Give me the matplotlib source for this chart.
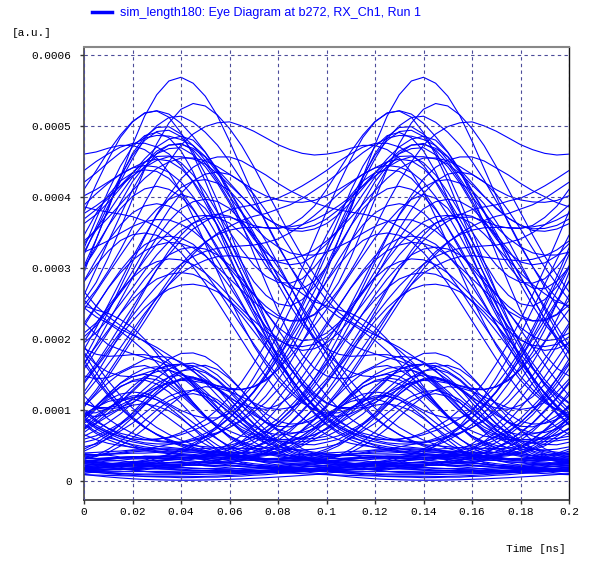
import numpy as np
import matplotlib
matplotlib.use('Agg')
import matplotlib.pyplot as plt

# received level of every bit (one bit per 0.1 ns UI), ~1 for a "1", ~0 for a "0"
levels = [0.02,0.00,0.05,1.08,0.03,-0.02,0.04,0.01,0.86,1.18,0.06,0.78,0.00,0.03,-0.03,
          0.05,0.02,1.22,0.94,1.10,0.04,0.01,1.15,0.02,0.06,-0.02,0.03,0.00,0.05,0.92,
          0.03,1.02,1.24,0.05,-0.01,0.02,0.07,0.81,1.13,0.97,1.19,0.02,0.04,-0.03,0.01,
          0.06,1.05,0.03,0.00,0.88,1.21,0.05,0.02,-0.02,0.04,0.01,0.07,0.03,0.76,0.02,
          1.16,0.04,0.00,0.06,0.93,1.25,0.84,0.03,-0.02,0.05,0.01,0.04,1.09,0.02,0.06,
          -0.01,0.79,1.17,0.05,1.03,0.90,1.20,0.01,0.04,0.00,0.06,-0.02,0.03,0.98,0.05,
          0.01,1.12,0.03,0.06,-0.02,0.02,0.87,1.23,1.01,0.82,1.14,0.04,0.00,0.05,0.02,
          0.95,0.06,1.07,0.01,-0.03,0.04,0.02,0.05,1.19,0.85,0.03,0.00,0.06,1.11,0.02,
          0.04,-0.01,0.05,0.02,0.03,0.89,1.16,1.04,0.01,0.06,0.02,0.80,0.04,1.22,0.96,
          0.03,0.00,0.05,0.02,0.01]

# timing offset of every bit, in 5 ps steps
shifts = [0,1,-1,2,0,-2,1,0,-1,3,1,-2,0,2,-1,1,0,-3,2,1,-1,0,2,-2,1,3,-1,0,-2,1,
          2,-1,0,3,-2,1,-1,2,0,-3,1,2,-1,0,1,-2,3,0,-1,2,-2,1,0,-1,2,1,-3,0,1,-1,
          -2,1,3,0,-1,2,-3,1,0,-1,2,1,-2,0,3,-1,1,-2,2,0,-1,3,1,-2,0,1,-1,2,-3,0,
          1,-2,0,2,-1,1,3,-1,-2,0,2,1,-3,1,0,-1,2,-2,1,0,3,-1,0,2,-2,1,0,-1,2,-3,
          0,2,-1,1,-2,3,0,-1,2,1,-2,0,1,-3,2,0,-1,1,0,2]

# single-bit response at the receiver [1e-4 a.u.], every 0.005 ns from -0.120 to +0.400 ns
pulse = [0.01,0.02,0.03,0.05,0.08,0.11,0.16,0.23,0.31,0.41,0.54,0.70,
         0.88,1.10,1.34,1.61,1.90,2.19,2.48,2.76,3.01,3.22,3.38,3.47,
         3.50,
         3.47,3.38,3.22,3.01,2.77,2.50,2.22,1.94,1.66,1.40,
         1.16,0.95,0.77,0.62,0.50,0.41,0.34,0.29,0.25,0.22,
         0.20,0.18,0.17,0.16,0.16,0.16,0.17,0.18,0.20,0.24,
         0.30,0.39,0.50,0.63,0.78,0.92,1.04,1.11,1.13,1.09,
         1.00,0.87,0.72,0.57,0.44,0.33,0.25,0.20,0.17,0.15,
         0.14,0.14,0.13,0.13,0.13,0.12,0.12,0.12,0.11,0.11,
         0.11,0.10,0.10,0.10,0.09,0.09,0.08,0.08,0.07,0.07,
         0.06,0.06,0.05,0.05,0.04,0.04,0.03,0.02,0.01,0.00]
pulse_centre = 24
baseline = 0.06

dt = 0.005
spb = 20            # samples per bit
eye_centre = 0.040  # bit centre position inside the 0.2 ns window

xticks = [0, 0.02, 0.04, 0.06, 0.08, 0.1, 0.12, 0.14, 0.16, 0.18, 0.2]
xlabels = ['0', '0.02', '0.04', '0.06', '0.08', '0.1', '0.12', '0.14', '0.16', '0.18', '0.2']
yticks = [0, 0.0001, 0.0002, 0.0003, 0.0004, 0.0005, 0.0006]
ylabels = ['0', '0.0001', '0.0002', '0.0003', '0.0004', '0.0005', '0.0006']

# received waveform = superposition of bit responses
pulse = np.array(pulse)
n = len(levels) * spb + len(pulse) + 10
wave = np.full(n, baseline)
for i, (a, s) in enumerate(zip(levels, shifts)):
    st = i*spb + 5 + s
    wave[st:st+len(pulse)] += a * pulse
wave = wave * 1e-4

mono = ['Liberation Mono', 'DejaVu Sans Mono']
blue = '#0000ff'

fig = plt.figure(figsize=(5.89, 5.62), dpi=100)
ax = fig.add_axes([84/589, 62/562, 485/589, 453/562])

j = np.arange(-9, 35)
tw = eye_centre + j*dt
first = True
for k in range(4, len(levels) - 3):
    c = k*spb + 5 + pulse_centre
    y = wave[c + j]
    ax.plot(tw, y, color=blue, lw=0.8,
            label='sim_length180: Eye Diagram at b272, RX_Ch1, Run 1' if first else None)
    first = False

ax.set_xlim(0, 0.2)
ax.set_ylim(-0.0000268, 0.000611)
ax.set_xticks(xticks)
ax.set_xticklabels(xlabels)
ax.set_yticks(yticks)
ax.set_yticklabels(ylabels)
for lab in ax.get_xticklabels() + ax.get_yticklabels():
    lab.set_family(mono)
    lab.set_fontsize(8)
ax.tick_params(axis='y', direction='out', length=3, width=1, pad=6, color='#333333')
ax.tick_params(axis='x', direction='out', length=3, width=1, pad=2, color='#333333')
ax.grid(True, color='#4b4b9a', ls=(0, (3, 3)), lw=0.8)
ax.set_axisbelow(False)

ax.spines['left'].set_color('#444444')
ax.spines['left'].set_linewidth(1.2)
ax.spines['bottom'].set_color('#333333')
ax.spines['bottom'].set_linewidth(1.2)
ax.spines['top'].set_color('#888888')
ax.spines['top'].set_linewidth(1.5)
ax.spines['right'].set_color('#111111')
ax.spines['right'].set_linewidth(1.0)

leg = fig.legend(loc='upper left', bbox_to_anchor=(92/589, 1 - 7/562), frameon=False,
                 borderpad=0, borderaxespad=0, handlelength=1.6, handletextpad=0.6,
                 prop={'family': ['Liberation Sans', 'DejaVu Sans'], 'size': 9})
for line in leg.get_lines():
    line.set_linewidth(2.5)
for txt in leg.get_texts():
    txt.set_color(blue)

fig.text(12/589, 1 - 33/562, '[a.u.]', family=mono, fontsize=8, va='center', ha='left')
fig.text(566/589, 1 - 549/562, 'Time [ns]', family=mono, fontsize=8, va='center', ha='right')

fig.savefig('out.png', dpi=100)
